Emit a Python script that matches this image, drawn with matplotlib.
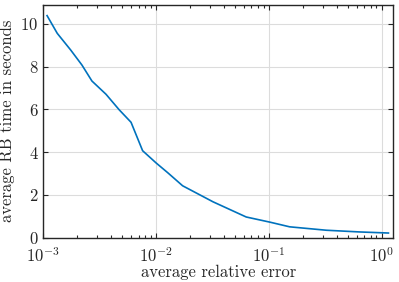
import numpy as np
import matplotlib
matplotlib.use("Agg")
import matplotlib.pyplot as plt
from matplotlib.ticker import LogLocator

# average relative error vs. average RB time
rel_error = [1.08e-3, 1.33e-3, 1.75e-3, 2.2e-3, 2.7e-3, 3.6e-3, 4.7e-3, 6.0e-3,
             7.6e-3, 1.0e-2, 1.27e-2, 1.72e-2, 3.2e-2, 6.3e-2, 0.102, 0.153,
             0.324, 0.64, 1.15]
rb_time = [10.39, 9.56, 8.78, 8.08, 7.33, 6.71, 5.99, 5.40, 4.07, 3.50, 3.04,
           2.43, 1.68, 0.97, 0.73, 0.51, 0.35, 0.27, 0.22]

plt.rcParams['font.family'] = 'cmr10'
plt.rcParams['mathtext.fontset'] = 'cm'
plt.rcParams['axes.formatter.use_mathtext'] = True

dark = '#262626'
fig = plt.figure(figsize=(3.99, 2.82), dpi=100)
ax = fig.add_axes([0.1085, 0.157, 0.8772, 0.8263])

ax.plot(rel_error, rb_time, color='#0072BD', lw=1.2)
ax.set_xscale('log')
ax.set_xlim(1e-3, 1.27)
ax.set_ylim(0, 10.9)
ax.set_yticks([0, 2, 4, 6, 8, 10])
ax.xaxis.set_minor_locator(LogLocator(base=10, subs=np.arange(2, 10), numticks=20))

ax.grid(True, which='major', color='#dcdcdc', lw=0.8)
ax.set_axisbelow(True)
ax.tick_params(which='both', direction='in', top=True, right=True,
               colors=dark, labelsize=12, width=0.8)
ax.tick_params(which='major', length=3.5)
ax.tick_params(which='minor', length=2)
ax.tick_params(axis='x', pad=6)
for s in ax.spines.values():
    s.set_color(dark)
    s.set_linewidth(1.0)

ax.set_xlabel('average relative error', fontsize=12, color=dark, labelpad=0)
ax.set_ylabel('average RB time in seconds', fontsize=12, color=dark, labelpad=4)

fig.savefig('out.png', dpi=100)
